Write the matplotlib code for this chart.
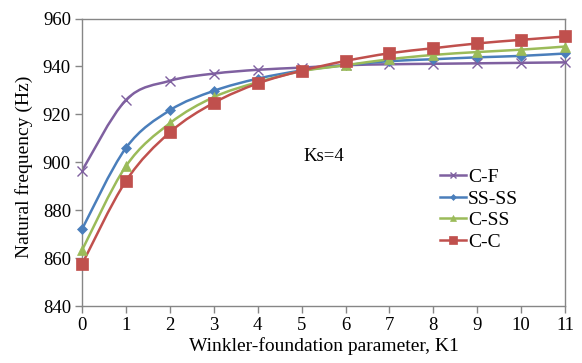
import numpy as np
import matplotlib.pyplot as plt
from matplotlib.path import Path
from matplotlib.patches import PathPatch
from matplotlib.lines import Line2D

plt.rcParams['font.family'] = ['Liberation Serif', 'DejaVu Serif']

k1 = [0, 1, 2, 3, 4, 5, 6, 7, 8, 9, 10, 11]
series_names = ["C-F", "SS-SS", "C-SS", "C-C"]
cf = [896.5, 926.0, 934.0, 937.0, 938.6, 939.5, 940.5, 940.9, 941.1, 941.3, 941.5, 941.7]
ssss = [872.1, 906.0, 921.7, 929.8, 934.9, 938.3, 940.5, 942.2, 943.0, 943.8, 944.4, 945.4]
css = [863.3, 898.4, 916.3, 927.2, 933.4, 938.0, 940.5, 943.0, 944.8, 946.0, 947.0, 948.3]
cc = [857.5, 892.2, 912.5, 924.8, 932.9, 938.2, 942.3, 945.5, 947.6, 949.6, 951.1, 952.5]

colors = ["#7F60A0", "#4A7EBB", "#9BBB59", "#C0504D"]
markers = ["x", "D", "^", "s"]
msizes = [7, 5, 7, 8]


def smooth_path(x, y):
    # excel-like smoothed line: bezier segments through each point
    x = np.asarray(x, float)
    y = np.asarray(y, float)
    n = len(x)
    verts = [(x[0], y[0])]
    codes = [Path.MOVETO]
    for i in range(n - 1):
        i0 = max(i - 1, 0)
        i3 = min(i + 2, n - 1)
        c1 = (x[i] + (x[i + 1] - x[i0]) / 6, y[i] + (y[i + 1] - y[i0]) / 6)
        c2 = (x[i + 1] - (x[i3] - x[i]) / 6, y[i + 1] - (y[i3] - y[i]) / 6)
        verts += [c1, c2, (x[i + 1], y[i + 1])]
        codes += [Path.CURVE4] * 3
    return Path(verts, codes)


fig = plt.figure(figsize=(5.82, 3.63), dpi=100)
ax = fig.add_axes([0.141, 0.157, 0.830, 0.792])

handles = []
for vals, c, m, ms, name in zip([cf, ssss, css, cc], colors, markers, msizes, series_names):
    ax.add_patch(PathPatch(smooth_path(k1, vals), facecolor="none",
                           edgecolor=c, lw=1.8, zorder=2))
    ax.plot(k1, vals, linestyle="none", marker=m, ms=ms, color=c,
            mew=1.0 if m == "x" else 0.5, zorder=3, clip_on=False)
    handles.append(Line2D([], [], color=c, lw=1.8, marker=m, ms=ms - 2,
                          mew=1.0 if m == "x" else 0.5))

ax.set_xlim(0, 11)
ax.set_ylim(840, 960)
ax.set_xticks(range(0, 12))
ax.set_yticks(range(840, 961, 20))
for s in ax.spines.values():
    s.set_color("#868686")
    s.set_linewidth(1.0)
ax.tick_params(direction="out", length=5, width=1.0, color="#868686",
               labelsize=13.5, pad=3)

ax.set_xlabel("Winkler-foundation parameter, K1", fontsize=14, labelpad=2)
ax.set_ylabel("Natural frequency (Hz)", fontsize=14)
ax.yaxis.set_label_coords(-0.102, 0.485)

ax.text(5.05, 900.5, "Ks=4", fontsize=13.5)

ax.legend(handles, series_names, loc="upper left", bbox_to_anchor=(0.712, 0.525),
          frameon=False, fontsize=14, handlelength=1.35, handletextpad=0.1,
          labelspacing=0.2, borderpad=0.2)

fig.savefig("out.png", dpi=100)
